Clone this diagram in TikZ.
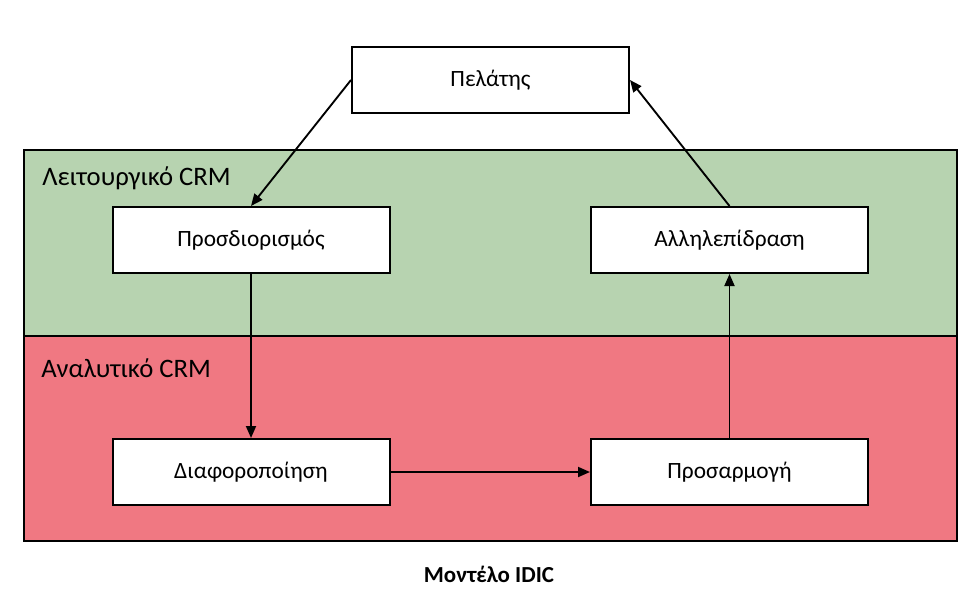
\documentclass[tikz,border=0pt]{standalone}
\usepackage{fontspec}
\setmainfont{Carlito}
\usetikzlibrary{arrows.meta}
\definecolor{opgreen}{HTML}{B7D3B0}
\definecolor{anred}{HTML}{F07882}
\begin{document}
\begin{tikzpicture}[x=0.75pt,y=-0.75pt,
  box/.style={draw, line width=1.5pt, fill=white, minimum width=207.75pt, minimum height=49.5pt, inner sep=0pt, font=\fontsize{17.5}{20}\selectfont},
  band/.style={draw, line width=1.5pt, inner sep=0pt, minimum width=699.75pt},
  bandlabel/.style={anchor=west, inner sep=0pt, font=\fontsize{20}{23}\selectfont},
  conn/.style={line width=1.4pt, -{Triangle[length=9pt,width=7.5pt]}}]
\useasboundingbox (0,0) rectangle (975,604);
\node[band, fill=opgreen, minimum height=139.5pt] (op) at (490.5,243) {};
\node[band, fill=anred, minimum height=153.75pt] (an) at (490.5,438.5) {};
\node[bandlabel] (oplab) at (42,178) {Λειτουργικό CRM};
\node[bandlabel] (anlab) at (41,368) {Αναλυτικό CRM};
\node[box] (pel) at (490.5,80) {Πελάτης};
\node[box] (pros) at (251,240) {Προσδιορισμός};
\node[box] (allil) at (729.5,240) {Αλληλεπίδραση};
\node[box] (diaf) at (251,472) {Διαφοροποίηση};
\node[box] (prosarm) at (729.5,472) {Προσαρμογή};
\node[font=\bfseries\fontsize{17.2}{20}\selectfont] (cap) at (489,574) {Μοντέλο IDIC};
\draw[conn] (pel.west) -- (pros.north);
\draw[conn] (pros.south) -- (diaf.north);
\draw[conn] (diaf.east) -- (prosarm.west);
\draw[conn] (prosarm.north) -- (allil.south);
\draw[conn] (allil.north) -- (pel.east);
\end{tikzpicture}
\end{document}
